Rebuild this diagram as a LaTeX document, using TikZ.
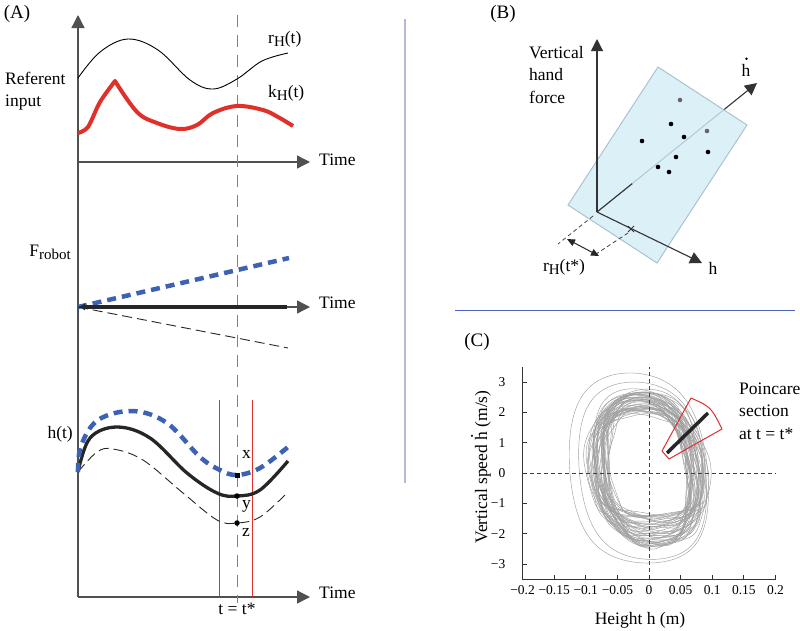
\documentclass[tikz,border=0pt]{standalone}
\usepackage{fontspec}
\setmainfont{Liberation Serif}
\usetikzlibrary{arrows.meta,calc}
\definecolor{figred}{HTML}{E0302A}
\definecolor{figblue}{HTML}{3D62B4}
\definecolor{figgray}{HTML}{505050}
\definecolor{planefill}{HTML}{D4EDF7}
\definecolor{planeedge}{HTML}{A9C3CF}
\definecolor{orbitgray}{HTML}{A0A0A0}
\definecolor{vdivider}{HTML}{B4B9D6}
\definecolor{hdivider}{HTML}{4A64C0}
\newcommand{\lowsub}[1]{\raisebox{-0.4ex}{\fontsize{15}{15}\selectfont #1}}
\newcommand{\hdot}{\makebox[0pt][l]{\hspace{0.14em}\raisebox{0.82em}{.}}h}

\begin{document}
\begin{tikzpicture}[x=1pt, y=-1pt,
  lbl/.style={font=\fontsize{17.5}{22.5}\selectfont, inner sep=0pt},
  tag/.style={font=\fontsize{19}{22}\selectfont, inner sep=0pt},
  tick/.style={font=\fontsize{13.5}{15}\selectfont, inner sep=0pt},
  axarr/.style={draw=figgray, line width=1.3pt, -{Triangle[length=13pt, width=13pt]}},
  baxarr/.style={draw=black!80, line width=1.1pt, -{Triangle[length=12pt, width=12pt]}},
  tline/.style={draw=gray, line width=0.9pt, dash pattern=on 12pt off 8pt},
  blueline/.style={draw=figblue, line width=4.5pt, dash pattern=on 9pt off 6pt},
  blackline/.style={draw=black!85, line width=3.3pt},
  thindash/.style={draw=black!85, line width=0.9pt, dash pattern=on 10pt off 5pt},
  guide/.style={draw=black!75, line width=0.8pt, dash pattern=on 4pt off 3pt},
  orbit/.style={draw=orbitgray, line width=0.45pt},
]
\useasboundingbox (0,0) rectangle (800,630);

% ---- panel A ----
\node[tag] (tagA) at (17,14) {(A)};
\coordinate (ao) at (78,597);
\coordinate (atop) at (78,15);
\coordinate (a1) at (78,162);
\coordinate (a1e) at (310,162);
\coordinate (a2) at (78,307);
\coordinate (a2m) at (287,307);
\coordinate (a2e) at (310,307);
\coordinate (a3e) at (310,597);
\draw[axarr] (ao) -- (atop);
\draw[axarr] (a1) -- (a1e);
\draw[axarr] (a2) -- (a2e);
\draw[axarr] (ao) -- (a3e);
\node[lbl, anchor=west] (time1) at (319,160) {Time};
\node[lbl, anchor=west] (time2) at (319,303) {Time};
\node[lbl, anchor=west] (time3) at (319,593) {Time};

\node[lbl, anchor=north] (tstar) at (237,603) {t = t*};
\coordinate (ttop) at (237,15);
\draw[tline] (ttop) -- (tstar.north);

\node[lbl, align=left, anchor=west] (refin) at (5,91) {Referent\\input};
\draw[black, line width=0.9pt] plot[smooth, tension=0.6] coordinates
  {(78,78) (100,52) (128,39) (158,50) (190,80) (213,89) (237,79) (262,61) (288,53)};
\node[lbl, anchor=west] (rlbl) at (268,39) {r\lowsub{H}(t)};
\draw[figred, line width=4pt, line join=round] plot[smooth, tension=0.5] coordinates
  {(78,133) (88,127) (100,102) (115,81)}
  -- plot[smooth, tension=0.6] coordinates
  {(115,81) (137,112) (157,123) (180,129) (197,125) (213,113) (237,106) (263,110) (278,117) (293,126)};
\node[lbl, anchor=west] (klbl) at (268,93) {k\lowsub{H}(t)};

\node[lbl, anchor=east] (flbl) at (71,252) {F\lowsub{robot}};
\coordinate (fb) at (289,258);
\coordinate (fd) at (288,348);
\draw[blueline] (a2) -- (fb);
\draw[thindash] (a2) -- (fd);
\draw[blackline, {Latex[length=7pt, width=7pt]}-] (a2) -- (a2m);

\node[lbl, anchor=east] (hlbl) at (73,434) {h(t)};
\coordinate (rl1) at (219,400);
\coordinate (rl1b) at (219,597);
\coordinate (rl2) at (252,400);
\coordinate (rl2b) at (252,597);
\draw[figred, line width=0.8pt] (rl1) -- (rl1b) (rl2) -- (rl2b);
\draw[thindash] plot[smooth, tension=0.6] coordinates
  {(78,472) (97,452) (113,449) (143,460) (183,493) (217,520) (237,523) (260,517) (287,493)};
\draw[blackline] plot[smooth, tension=0.6] coordinates
  {(78,472) (90,438) (117,427) (150,438) (187,473) (217,493) (237,496) (260,490) (288,461)};
\draw[blueline] plot[smooth, tension=0.6] coordinates
  {(78,472) (81,446) (98,420) (133,411) (167,423) (200,457) (220,470) (237,475) (260,468) (288,447)};
\node[fill=black, inner sep=0pt, minimum size=5pt] (ptx) at (237,475) {};
\node[circle, fill=black, inner sep=0pt, minimum size=5.5pt] (pty) at (237,496) {};
\node[circle, fill=black, inner sep=0pt, minimum size=5.5pt] (ptz) at (237,523) {};
\node[lbl, anchor=west] (xlbl) at (242,454) {x};
\node[lbl, anchor=west] (ylbl) at (242,506) {y};
\node[lbl, anchor=west] (zlbl) at (242,532) {z};

% ---- dividers ----
\coordinate (vd1) at (405,19);
\coordinate (vd2) at (405,483);
\coordinate (hd1) at (455,310);
\coordinate (hd2) at (795,310);
\draw[vdivider, line width=1.6pt] (vd1) -- (vd2);
\draw[hdivider, line width=0.8pt] (hd1) -- (hd2);

% ---- panel B ----
\node[tag] (tagB) at (503,14) {(B)};
\coordinate (bo) at (597,212);
\coordinate (btop) at (597,39);
\coordinate (bhd) at (757,83);
\coordinate (bh) at (702,263);
\draw[baxarr] (bo) -- (bhd);
\filldraw[fill=planefill, draw=planeedge, line width=1pt, fill opacity=0.82]
  (568,205) -- (658,67) -- (747,125) -- (657,263) -- cycle;
\draw[black!80, line width=1.1pt] (bo) -- ($(bo)!0.22!(bhd)$);
\draw[baxarr] (bo) -- (btop);
\draw[baxarr] (bo) -- (bh);
\foreach \px/\py in {671/124, 642/141, 684/137, 676/157, 708/152, 658/167, 669/172}
  \fill[black] (\px,\py) circle (2.3pt);
\foreach \px/\py in {680/100, 707/131}
  \fill[black!60] (\px,\py) circle (2.3pt);
\coordinate (bx) at (631,229);
\draw[black!80, line width=0.8pt] ($(bx)+(-3,-3)$) -- ($(bx)+(3,3)$) ($(bx)+(-3,3)$) -- ($(bx)+(3,-3)$);
\coordinate (d1a) at (593,216);
\coordinate (d1b) at (558,244);
\coordinate (d2a) at (628,233);
\coordinate (d2b) at (593,256);
\draw[guide] (d1a) -- (d1b);
\draw[guide] (d2a) -- (d2b);
\coordinate (ra) at (567,239);
\coordinate (rb) at (599,256);
\draw[black!85, line width=1pt, {Triangle[length=8pt, width=7pt]}-{Triangle[length=8pt, width=7pt]}] (ra) -- (rb);
\node[lbl, align=left, anchor=west] (vflbl) at (529,75) {Vertical\\hand\\force};
\node[lbl] (hdlbl) at (746,70) {h};
\fill[black] (hdlbl.north) ++(0.5,-5) circle (1.4pt);
\node[lbl] (hlblB) at (713,268) {h};
\node[lbl] (rtlbl) at (564,267) {r\lowsub{H}(t*)};

% ---- panel C ----
\node[tag] (tagC) at (477,342) {(C)};
\begin{scope}[shift={(649,473)}, x=632.5pt, y=30.33pt]
  \pgfmathsetseed{11}
  \foreach \i in {1,...,46} {
    \pgfmathsetmacro\a{0.061+0.034*rnd}
    \pgfmathsetmacro\cx{-0.006+0.008*rnd}
    \pgfmathsetmacro\bt{1.9+0.9*rnd}
    \pgfmathsetmacro\bb{1.35+1.25*rnd}
    \pgfmathsetmacro\bm{(\bt+\bb)/2}
    \pgfmathsetmacro\bd{(\bt-\bb)/2}
    \pgfmathsetmacro\ph{360*rnd}
    \draw[orbit] plot[domain=0:360, samples=55, smooth]
      ({\cx+\a*(cos(\x)-cos(3*\x)/30)/0.967-0.012*sin(\x)+0.003*sin(6*\x+\ph)},
       {(sin(\x)+sin(3*\x)/30)/0.967*(\bm+\bd*sin(\x))+0.07*sin(5*\x+\ph)});
  }
  \foreach \a/\cx/\bt/\bb in {0.109/-0.016/3.3/2.97, 0.1/-0.01/3.0/2.85} {
    \pgfmathsetmacro\bm{(\bt+\bb)/2}
    \pgfmathsetmacro\bd{(\bt-\bb)/2}
    \draw[orbit] plot[domain=0:360, samples=61, smooth]
      ({\cx+\a*(cos(\x)-cos(3*\x)/30)/0.967-0.014*sin(\x)},
       {(sin(\x)+sin(3*\x)/30)/0.967*(\bm+\bd*sin(\x))});
  }
  \coordinate (cbl) at (-0.2,-3.5);
  \coordinate (cbr) at (0.2,-3.5);
  \coordinate (ctl) at (-0.2,3.5);
  \coordinate (hz1) at (-0.2,0);
  \coordinate (hz2) at (0.2,0);
  \coordinate (vz1) at (0,-3.5);
  \coordinate (vz2) at (0,3.5);
  \draw[guide] (hz1) -- (hz2);
  \draw[guide] (vz1) -- (vz2);
  \draw[black!80, line width=0.8pt] (ctl) -- (cbl) -- (cbr);
  \foreach \v/\t in {-0.2/{−0.2},-0.15/{−0.15},-0.1/{−0.1},-0.05/{−0.05},0/0,0.05/0.05,0.1/0.1,0.15/0.15,0.2/0.2} {
    \draw[black!80, line width=0.8pt] (\v,-3.5) -- ++(0,0.13);
    \node[tick, anchor=north, yshift=-6pt] at (\v,-3.5) {\t};
  }
  \foreach \v/\t in {-3/{−3},-2/{−2},-1/{−1},0/0,1/1,2/2,3/3} {
    \draw[black!80, line width=0.8pt] (-0.2,\v) -- ++(0.007,0);
    \node[tick, anchor=east, xshift=-17pt] at (-0.2,\v) {\t};
  }
\end{scope}
\node[lbl] (hxlbl) at (640,620) {Height h (m)};
\node[lbl, rotate=90] (vylbl) at (481,467) {Vertical speed \hdot{} (m/s)};

\coordinate (ps1) at (662,451);
\coordinate (ps2) at (691,398);
\coordinate (ps3) at (722,429);
\coordinate (ps4) at (669,459);
\draw[figred, line width=1pt, line join=round] (ps1) -- (ps2) .. controls (711,407) .. (ps3) -- (ps4) -- cycle;
\coordinate (pl1) at (667,453);
\coordinate (pl2) at (708,413);
\draw[black!85, line width=3.5pt] (pl1) -- (pl2);
\node[lbl, align=left, anchor=west] (pclbl) at (739,411) {Poincare\\section\\at t = t*};
\end{tikzpicture}
\end{document}
